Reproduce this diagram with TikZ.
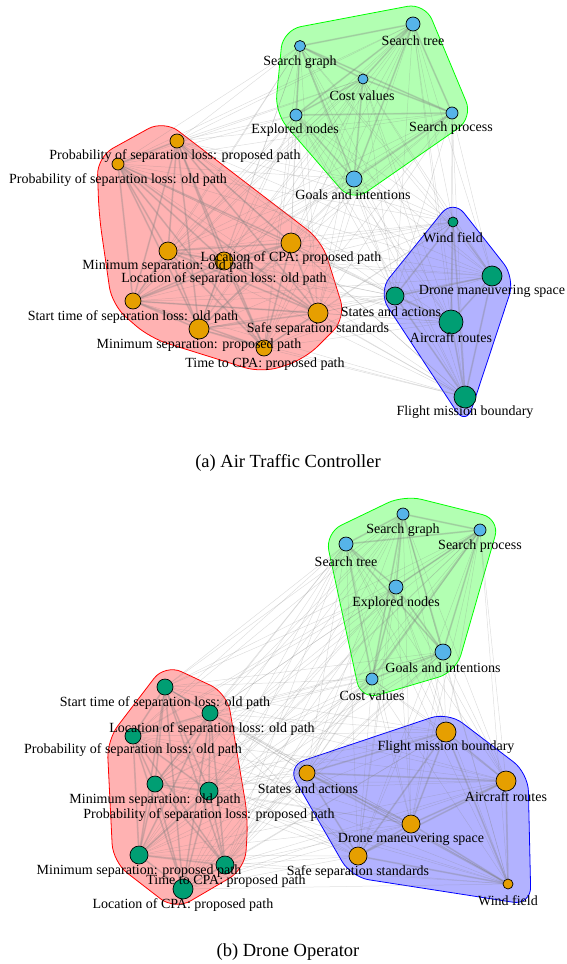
\documentclass[tikz,border=0pt]{standalone}
\usepackage{fontspec}
\setmainfont{Liberation Serif}
\pgfdeclarelayer{hull}
\pgfdeclarelayer{edges}
\pgfsetlayers{hull,edges,main}
\definecolor{cblue}{HTML}{56B4E9}
\definecolor{corange}{HTML}{E69F00}
\definecolor{cgreen}{HTML}{009E73}
\tikzset{
 vtx/.style={circle, draw=black, line width=0.7pt, inner sep=0pt, minimum size=#1},
 lbl/.style={font=\fontsize{14}{16}\selectfont, inner sep=0pt, text=black},
 captxt/.style={font=\fontsize{18.5}{20}\selectfont, inner sep=0pt},
 wedge/.style={draw=gray, line width=0.5pt, opacity=0.26},
 sedge/.style={draw=gray, line width=1.8pt, opacity=0.26},
 hullstyle/.style={line width=0.8pt, rounded corners=18pt, fill opacity=0.3},
}
\begin{document}
\begin{tikzpicture}[x=1pt,y=-1pt]
\useasboundingbox (0,0) rectangle (566,964);
% ---------------- panel (a) ----------------
\node[vtx=14pt, fill=cblue] (a1) at (413,24) {};
\node[vtx=11pt, fill=cblue] (a2) at (300,46) {};
\node[vtx=10pt, fill=cblue] (a3) at (363,79) {};
\node[vtx=12pt, fill=cblue] (a4) at (296,115) {};
\node[vtx=12pt, fill=cblue] (a5) at (452,113) {};
\node[vtx=16pt, fill=cblue] (a6) at (354,179) {};
\node[vtx=14pt, fill=corange] (a7) at (177,141) {};
\node[vtx=12pt, fill=corange] (a8) at (118,164) {};
\node[vtx=18pt, fill=corange] (a9) at (168,251) {};
\node[vtx=20pt, fill=corange] (a10) at (291,243) {};
\node[vtx=18pt, fill=corange] (a11) at (224,261) {};
\node[vtx=16pt, fill=corange] (a12) at (133,301) {};
\node[vtx=20pt, fill=corange] (a13) at (199,329) {};
\node[vtx=16pt, fill=corange] (a14) at (264,348) {};
\node[vtx=20pt, fill=corange] (a15) at (318,313) {};
\node[vtx=10pt, fill=cgreen] (a16) at (453,222) {};
\node[vtx=20pt, fill=cgreen] (a17) at (492,276) {};
\node[vtx=18pt, fill=cgreen] (a18) at (395,296) {};
\node[vtx=24pt, fill=cgreen] (a19) at (451,322) {};
\node[vtx=22pt, fill=cgreen] (a20) at (465,397) {};
% ---------------- panel (b) ----------------
\node[vtx=12pt, fill=cblue] (b1) at (403,514) {};
\node[vtx=12pt, fill=cblue] (b2) at (480,530) {};
\node[vtx=14pt, fill=cblue] (b3) at (346,544) {};
\node[vtx=14pt, fill=cblue] (b4) at (396,587) {};
\node[vtx=16pt, fill=cblue] (b5) at (443,652) {};
\node[vtx=12pt, fill=cblue] (b6) at (372,679) {};
\node[vtx=16pt, fill=cgreen] (b7) at (165,687) {};
\node[vtx=16pt, fill=cgreen] (b8) at (210,713) {};
\node[vtx=16pt, fill=cgreen] (b9) at (133,736) {};
\node[vtx=16pt, fill=cgreen] (b10) at (155,784) {};
\node[vtx=18pt, fill=cgreen] (b11) at (209,791) {};
\node[vtx=18pt, fill=cgreen] (b12) at (139,855) {};
\node[vtx=18pt, fill=cgreen] (b13) at (225,865) {};
\node[vtx=20pt, fill=cgreen] (b14) at (183,889) {};
\node[vtx=20pt, fill=corange] (b15) at (446,732) {};
\node[vtx=16pt, fill=corange] (b16) at (307,773) {};
\node[vtx=20pt, fill=corange] (b17) at (506,781) {};
\node[vtx=18pt, fill=corange] (b18) at (411,824) {};
\node[vtx=18pt, fill=corange] (b19) at (358,856) {};
\node[vtx=10pt, fill=corange] (b20) at (508,884) {};
% ---------------- edges ----------------
\begin{pgfonlayer}{edges}
\foreach \p in {a,b}{
  \foreach \i in {1,...,20}{
    \foreach \j in {1,...,20}{
      \ifnum\j>\i\relax \draw[wedge] (\p\i) -- (\p\j);\fi
    }
  }
}
\foreach \lo/\hi in {1/6,7/15,16/20}{
  \foreach \i in {\lo,...,\hi}{
    \foreach \j in {\lo,...,\hi}{
      \ifnum\j>\i\relax \draw[sedge] (a\i) -- (a\j);\fi
    }
  }
}
\foreach \lo/\hi in {1/6,7/14,15/20}{
  \foreach \i in {\lo,...,\hi}{
    \foreach \j in {\lo,...,\hi}{
      \ifnum\j>\i\relax \draw[sedge] (b\i) -- (b\j);\fi
    }
  }
}
\end{pgfonlayer}
% ---------------- hulls ----------------
\begin{pgfonlayer}{hull}
\draw[hullstyle, draw=green, fill=green] (283,30) -- (425,3) -- (473,118) -- (352,202) -- (275,113) -- cycle;
\draw[hullstyle, draw=red, fill=red] (164,120) -- (97,157) -- (99,215) -- (112,305) -- (150,338) -- (262,373) -- (305,359) -- (346,318) -- (322,241) -- cycle;
\draw[hullstyle, draw=blue, fill=blue] (453,199) -- (515,278) -- (466,426) -- (378,292) -- cycle;
\draw[hullstyle, draw=green, fill=green] (404,495) -- (500,519) -- (456,672) -- (361,700) -- (325,533) -- cycle;
\draw[hullstyle, draw=red, fill=red] (165,664) -- (107,740) -- (113,862) -- (175,910) -- (245,869) -- (248,818) -- (227,693) -- cycle;
\draw[hullstyle, draw=blue, fill=blue] (287,766) -- (448,712) -- (528,773) -- (531,905) -- (351,877) -- cycle;
\end{pgfonlayer}
% ---------------- labels (a) ----------------
\node[lbl] (la1) at (413,41) {Search tree};
\node[lbl] (la2) at (300,62) {Search graph};
\node[lbl] (la3) at (362,96) {Cost values};
\node[lbl] (la4) at (295,130) {Explored nodes};
\node[lbl] (la5) at (451,128) {Search process};
\node[lbl] (la6) at (353,195) {Goals and intentions};
\node[lbl] (la7) at (175,156) {Probability of separation loss: proposed path};
\node[lbl] (la8) at (118,180) {Probability of separation loss: old path};
\node[lbl] (la9) at (168,266) {Minimum separation: old path};
\node[lbl] (la10) at (291,258) {Location of CPA: proposed path};
\node[lbl] (la11) at (224,279) {Location of separation loss: old path};
\node[lbl] (la12) at (133,317) {Start time of separation loss: old path};
\node[lbl] (la13) at (199,345) {Minimum separation: proposed path};
\node[lbl] (la14) at (265,364) {Time to CPA: proposed path};
\node[lbl] (la15) at (318,329) {Safe separation standards};
\node[lbl] (la16) at (453,238) {Wind field};
\node[lbl] (la17) at (492,291) {Drone maneuvering space};
\node[lbl] (la18) at (391,312) {States and actions};
\node[lbl] (la19) at (451,338) {Aircraft routes};
\node[lbl] (la20) at (465,412) {Flight mission boundary};
\node[captxt] (capa) at (288,463) {(a) Air Traffic Controller};
% ---------------- labels (b) ----------------
\node[lbl] (lb1) at (403,530) {Search graph};
\node[lbl] (lb2) at (480,546) {Search process};
\node[lbl] (lb3) at (346,562) {Search tree};
\node[lbl] (lb4) at (396,603) {Explored nodes};
\node[lbl] (lb5) at (443,668) {Goals and intentions};
\node[lbl] (lb6) at (372,696) {Cost values};
\node[lbl] (lb7) at (165,703) {Start time of separation loss: old path};
\node[lbl] (lb8) at (212,729) {Location of separation loss: old path};
\node[lbl] (lb9) at (133,750) {Probability of separation loss: old path};
\node[lbl] (lb10) at (155,800) {Minimum separation: old path};
\node[lbl] (lb11) at (209,815) {Probability of separation loss: proposed path};
\node[lbl] (lb12) at (139,871) {Minimum separation: proposed path};
\node[lbl] (lb13) at (226,881) {Time to CPA: proposed path};
\node[lbl] (lb14) at (183,905) {Location of CPA: proposed path};
\node[lbl] (lb15) at (446,747) {Flight mission boundary};
\node[lbl] (lb16) at (308,789) {States and actions};
\node[lbl] (lb17) at (506,797) {Aircraft routes};
\node[lbl] (lb18) at (411,839) {Drone maneuvering space};
\node[lbl] (lb19) at (358,872) {Safe separation standards};
\node[lbl] (lb20) at (508,901) {Wind field};
\node[captxt] (capb) at (288,952) {(b) Drone Operator};
\end{tikzpicture}
\end{document}
